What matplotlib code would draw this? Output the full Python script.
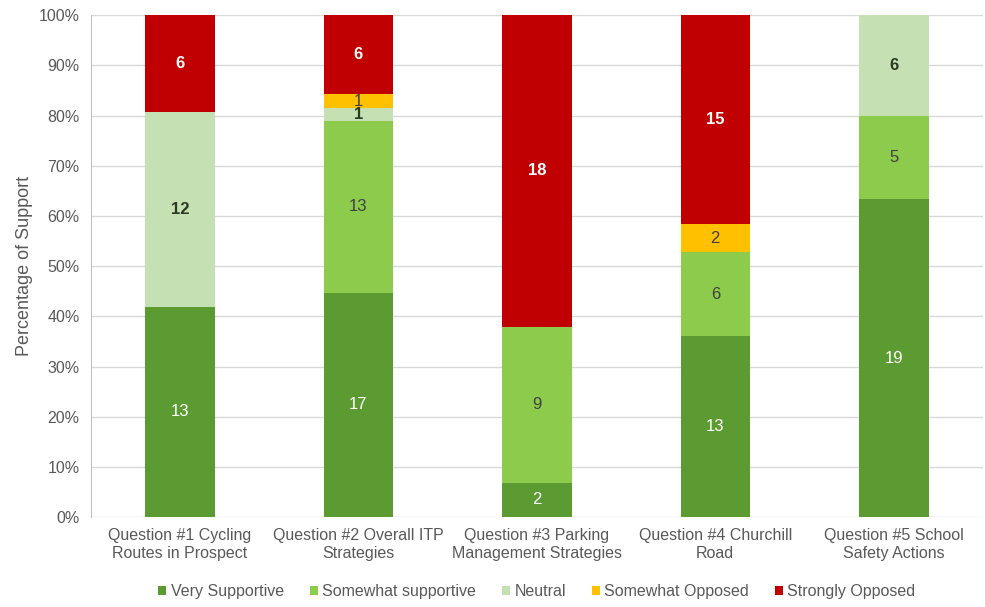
import numpy as np
import matplotlib.pyplot as plt

questions = ["Question #1 Cycling\nRoutes in Prospect",
             "Question #2 Overall ITP\nStrategies",
             "Question #3 Parking\nManagement Strategies",
             "Question #4 Churchill\nRoad",
             "Question #5 School\nSafety Actions"]
series_names = ["Very Supportive", "Somewhat supportive", "Neutral",
                "Somewhat Opposed", "Strongly Opposed"]
very_supportive = [13, 17, 2, 13, 19]
somewhat_supportive = [0, 13, 9, 6, 5]
neutral = [12, 1, 0, 0, 6]
somewhat_opposed = [0, 1, 0, 2, 0]
strongly_opposed = [6, 6, 18, 15, 0]

colors = ["#5c9a32", "#8ccb4c", "#c5e0b3", "#ffc000", "#c00000"]
text_colors = ["white", "#404040", "#2b3a20", "#404040", "white"]
bold = [False, False, True, False, True]

counts = np.array([very_supportive, somewhat_supportive, neutral,
                   somewhat_opposed, strongly_opposed], dtype=float)
totals = counts.sum(axis=0)
pct = counts / totals * 100

plt.rcParams['font.family'] = ['Liberation Sans', 'DejaVu Sans']
fig, ax = plt.subplots(figsize=(9.85, 6.07), dpi=100)
fig.subplots_adjust(left=0.092, right=0.998, top=0.975, bottom=0.148)

x = np.arange(len(questions))
bottom = np.zeros(len(questions))
for i, name in enumerate(series_names):
    ax.bar(x, pct[i], 0.39, bottom=bottom, color=colors[i], label=name, zorder=2)
    for j in range(len(questions)):
        if counts[i, j] > 0:
            ax.text(x[j], bottom[j] + pct[i, j] / 2, "%d" % counts[i, j],
                    ha="center", va="center", fontsize=12,
                    color=text_colors[i],
                    fontweight="bold" if bold[i] else "normal", zorder=3)
    bottom += pct[i]

ax.set_ylim(0, 100)
ax.set_xlim(-0.5, len(questions) - 0.5)
ax.set_yticks(np.arange(0, 101, 10))
ax.set_yticklabels(["%d%%" % v for v in range(0, 101, 10)])
ax.set_xticks(x)
ax.set_xticklabels(questions)
ax.tick_params(axis="both", length=0, labelsize=11.5, colors="#595959", pad=8)
ax.set_ylabel("Percentage of Support", fontsize=13, color="#595959")
ax.yaxis.grid(True, color="#d9d9d9", linewidth=1, zorder=0)
for s in ["top", "right", "bottom"]:
    ax.spines[s].set_visible(False)
ax.spines["left"].set_color("#bfbfbf")

ax.legend(loc="upper center", bbox_to_anchor=(0.5, -0.105), ncol=5,
          frameon=False, fontsize=11.5, handlelength=0.5, handleheight=0.5,
          handletextpad=0.3, columnspacing=1.6, labelcolor="#595959")

fig.savefig("out.png")
